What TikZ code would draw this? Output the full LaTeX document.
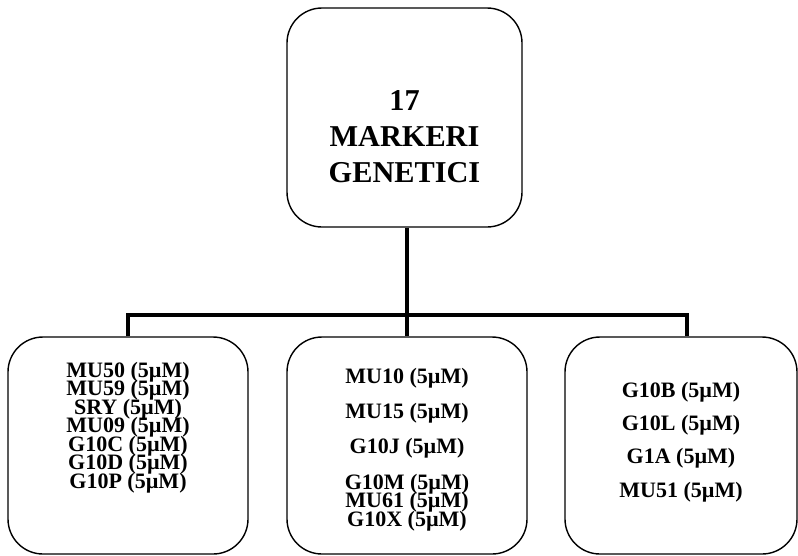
\documentclass[tikz,border=0pt]{standalone}
\usepackage{fontspec}
\setmainfont{Liberation Serif}
\usetikzlibrary{calc}

\begin{document}
\begin{tikzpicture}[
  box/.style={draw, line width=1pt, rounded corners=0.875cm, inner xsep=0pt, inner ysep=0pt, align=center, minimum width=6cm, minimum height=5.425cm},
  boxfont/.style={font={\fontsize{15.65}{13.16}\selectfont\bfseries\lineskiplimit-20pt}},
  link/.style={line width=3pt, line join=miter},
]
  \useasboundingbox (0,0) rectangle (19.95,-13.875);

  \node[box, minimum width=5.875cm, minimum height=5.475cm, text height=4.35cm, text depth=1.125cm, font={\fontsize{21.55}{25.6}\selectfont\bfseries\lineskiplimit-20pt}] (markers) at (10.1125,-2.9375) {17\\MARKERI\\GENETICI};

  \node[box, boxfont, text height=3.775cm, text depth=1.65cm] (left) at (3.2,-11.1375) {MU50 (5µM)\\MU59 (5µM)\\SRY (5µM)\\MU09 (5µM)\\G10C (5µM)\\G10D (5µM)\\G10P (5µM)};
  \node[box, boxfont, text height=4.725cm, text depth=0.7cm] (mid) at (10.175,-11.1375) {MU10 (5µM)\\[11.9pt]MU15 (5µM)\\[11.9pt]G10J (5µM)\\[11.9pt]G10M (5µM)\\MU61 (5µM)\\G10X (5µM)};
  \node[box, font={\fontsize{15.65}{23.7}\selectfont\bfseries}, minimum width=5.8cm, text height=4.0cm, text depth=1.425cm] (right) at (17.025,-11.1375) {G10B (5µM)\\G10L (5µM)\\G1A (5µM)\\MU51 (5µM)};

  \coordinate (bus) at (0,-7.875);
  \coordinate (rdrop) at ([xshift=0.15cm]right.north);

  \draw[link] (markers.south -| mid.north) -- (mid.north);
  \draw[link] (left.north) -- (left.north |- bus) -- (rdrop |- bus) -- (rdrop);
\end{tikzpicture}
\end{document}
